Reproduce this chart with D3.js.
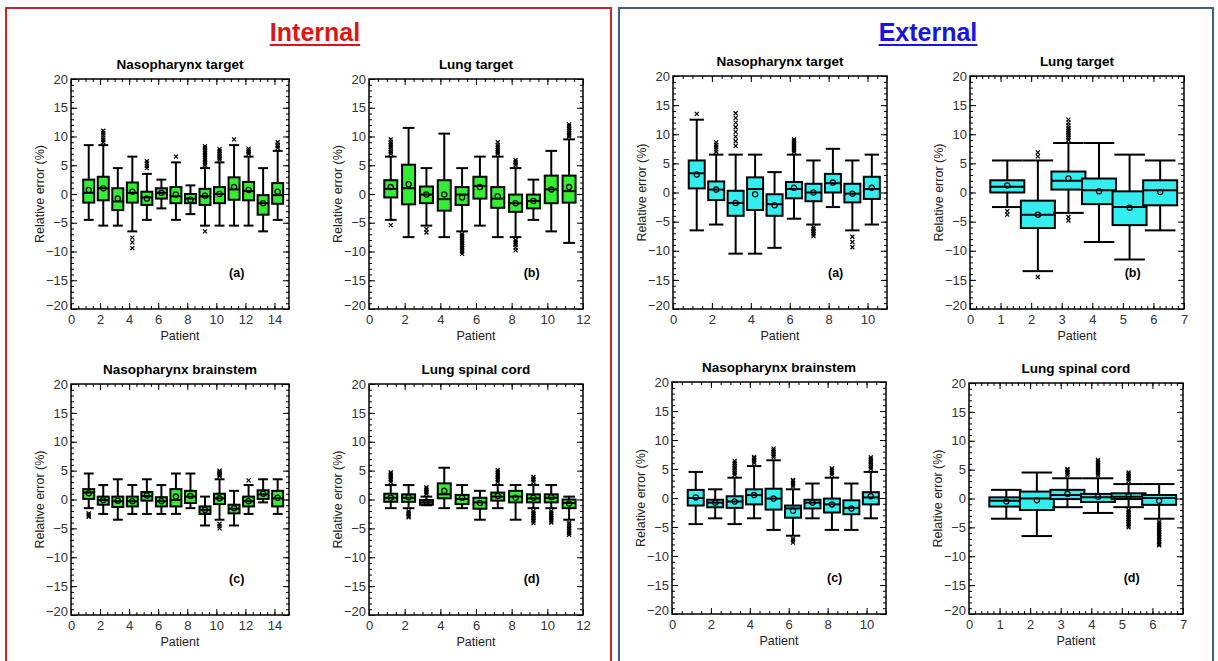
<!DOCTYPE html>
<html>
<head>
<meta charset="utf-8">
<script src="https://cdn.jsdelivr.net/npm/d3@7"></script>
<style>
  body { margin: 0; background: #fff; }
  text { font-family: 'Liberation Sans', Arial, sans-serif; }
</style>
</head>
<body>
<div id="chart"></div>
<script>
// rows: [low whisker, q1, median, q3, high whisker, mean]
const intNasoTarget = [
  [-4.5, -1.5, 0.2, 2.5, 8.5, 0.7], [-5.5, -1.1, 1.0, 3.0, 8.5, 1.0], [-5.5, -2.8, -1.3, 1.0, 4.5, -0.8],
  [-6.5, -1.5, 0.2, 2.0, 6.5, 0.4], [-4.5, -1.9, -0.6, 0.4, 3.5, -0.8], [-2.5, -0.8, 0.2, 1.0, 2.5, 0.2],
  [-4.5, -1.6, -0.4, 1.2, 5.5, -0.1], [-3.5, -1.6, -0.8, 0, 1.5, -1.0], [-5.5, -1.9, -0.4, 0.9, 4.5, -0.3],
  [-5.5, -1.6, 0, 1.2, 5.5, 0], [-5.5, -1.0, 0.8, 2.9, 8.5, 1.2], [-5.5, -1.1, 0.5, 2.1, 6.5, 0.7],
  [-6.5, -3.6, -1.6, -0.2, 4.5, -1.6], [-4.5, -1.7, -0.2, 1.9, 7.5, 0.4]
];
const intNasoTargetOut = [
  [], [9, 9.4, 9.8, 10.2, 10.6, 11], [], [-7.6, -8.4, -9.4], [4.5, 4.9, 5.3, 5.7], [], [6.5], [],
  [5, 5.3, 5.6, 5.9, 6.2, 6.5, 6.8, 7.1, 7.4, 7.7, 8, 8.3, -6.5], [6, 6.3, 6.6, 6.9, 7.2, 7.5, 7.8],
  [9.5], [7, 7.3, 7.6, 7.9], [], [8, 8.3, 8.6, 9]
];

const intLungTarget = [
  [-4.5, -0.6, 0.9, 2.4, 6.5, 1.2], [-7.5, -1.8, 1.0, 5.1, 11.5, 1.7], [-5.5, -1.6, -0.1, 1.3, 4.5, -0.1],
  [-7.5, -2.9, -0.9, 2.4, 10.5, -0.1], [-6.5, -1.9, -0.1, 1.2, 4.5, -0.6], [-5.5, -0.8, 1.4, 3.0, 6.5, 1.2],
  [-7.5, -2.4, -0.8, 1.2, 6.5, -0.4], [-7.5, -3.1, -1.6, -0.1, 4.5, -1.6], [-4.5, -2.5, -1.2, -0.1, 2.5, -1.2],
  [-6.5, -1.6, 0.8, 3.2, 7.5, 0.8], [-8.5, -1.5, 0.5, 3.2, 9.5, 1.2]
];
const intLungTargetOut = [
  [7, 7.3, 7.6, 7.9, 8.2, 8.5, 8.8, 9.1, 9.5, -5.4], [], [-6.1, -6.7], [],
  [-7, -7.3, -7.6, -7.9, -8.2, -8.5, -8.8, -9.1, -9.4, -9.7, -10, -10.4], [],
  [7, 7.3, 7.6, 7.9, 8.2, 8.5, 9], [5, 5.3, 5.6, 5.9, -8, -8.3, -8.6, -8.9, -9.3, -9.8], [], [],
  [10, 10.3, 10.6, 10.9, 11.2, 11.5, 11.8, 12.1]
];

const extNasoTarget = [
  [-6.5, 0.7, 3.3, 5.5, 12.5, 3.1], [-5.5, -1.3, 0.5, 1.9, 6.5, 0.5], [-10.5, -4.0, -1.8, 0.3, 6.5, -1.8],
  [-10.5, -3.0, 0.6, 2.6, 6.5, -0.3], [-9.5, -4.0, -2.0, -0.3, 3.5, -2.2], [-4.5, -1.0, 0.6, 1.8, 6.5, 0.8],
  [-5.5, -1.5, 0, 1.5, 5.5, 0], [-2.5, 0, 1.6, 3.2, 7.5, 1.7], [-6.5, -1.7, -0.2, 1.5, 5.5, -0.2],
  [-5.5, -1.1, 0.6, 2.7, 6.5, 0.8]
];
const extNasoTargetOut = [
  [13.5], [7, 7.4, 7.8, 8.2, 8.6], [8, 8.8, 9.6, 10.4, 11.2, 12, 12.8, 13.6], [], [],
  [7, 7.3, 7.6, 7.9, 8.2, 8.5, 8.8, 9.1], [-6, -6.3, -6.6, -6.9, -7.2, -7.5], [], [-7.6, -8.5, -9.4], []
];

const extLungTarget = [
  [-2.5, 0, 1.0, 2.1, 5.5, 1.2], [-13.5, -6.1, -3.8, -1.4, 5.5, -3.8], [-3.5, 0.5, 2.0, 3.6, 8.5, 2.4],
  [-8.5, -2.0, 0.4, 2.4, 8.5, 0.2], [-11.5, -5.6, -2.5, 0.2, 6.5, -2.6], [-6.5, -2.2, 0.4, 2.1, 5.5, 0.1]
];
const extLungTargetOut = [
  [-3.2, -3.8], [6.2, 6.9, -14.5], [9, 9.3, 9.6, 9.9, 10.2, 10.5, 10.8, 11.1, 11.5, 12, 12.5, -4.2, -4.8], [], [], []
];

const intNasoStem = [
  [-1.5, 0.1, 1.2, 1.8, 4.5, 1.1], [-2.5, -0.9, -0.1, 0.5, 2.5, -0.1], [-3.5, -1.3, -0.3, 0.5, 3.5, -0.2],
  [-2.5, -1.2, -0.3, 0.5, 2.5, -0.3], [-2.5, -0.2, 0.6, 1.3, 3.5, 0.7], [-2.5, -1.2, -0.3, 0.4, 2.5, -0.3],
  [-2.5, -1.2, -0.1, 1.8, 4.5, 0.5], [-1.5, -0.6, 0.5, 1.5, 4.5, 0.6], [-4.5, -2.5, -1.8, -1.2, 0.5, -1.8],
  [-3.5, -0.8, 0.2, 1.0, 3.5, 0.2], [-4.5, -2.4, -1.6, -0.9, 1.5, -1.5], [-2.5, -1.2, -0.3, 0.5, 2.5, -0.3],
  [-0.5, 0.1, 0.9, 1.6, 3.5, 1.0], [-2.5, -1.2, 0.2, 1.5, 3.5, 0.3]
];
const intNasoStemOut = [
  [-2.4, -2.6, -2.8, -3.0], [], [], [], [], [], [], [], [],
  [4, 4.2, 4.4, 4.6, 4.8, 5, -4.2, -4.6, -5], [], [3.3], [], []
];

const intLungCord = [
  [-1.5, -0.4, 0.3, 1.0, 2.5, 0.3], [-1.5, -0.4, 0.3, 0.9, 2.5, 0.4], [-1.0, -0.9, -0.5, -0.1, 0.5, -0.4],
  [-1.5, 0.2, 0.9, 2.8, 5.5, 1.5], [-1.5, -0.8, 0.1, 0.8, 2.5, 0.3], [-3.5, -1.6, -0.5, 0.3, 1.5, -0.6],
  [-1.5, -0.2, 0.5, 1.2, 2.5, 0.6], [-3.5, -0.5, 0.5, 1.5, 2.5, 0.3], [-1.5, -0.5, 0.2, 0.9, 2.5, 0.3],
  [-1.5, -0.5, 0.3, 0.9, 2.5, 0.4], [-3.5, -1.5, -0.6, 0, 0.5, -0.7]
];
const intLungCordOut = [
  [3, 3.3, 3.6, 3.9, 4.2, 4.5, 4.7], [-2, -2.3, -2.6, -2.9, -3.1], [1, 1.3, 1.6, 1.9, 2.1], [], [], [],
  [3, 3.3, 3.6, 3.9, 4.2, 4.5, 4.8, 5.1], [],
  [3, 3.3, 3.6, 3.9, -2, -2.3, -2.6, -2.9, -3.2, -3.5, -3.8, -4.1],
  [-2, -2.3, -2.6, -2.9, -3.2, -3.5, -3.8, -4.0],
  [-4, -4.3, -4.6, -4.9, -5.2, -5.5, -5.8, -6.1]
];

const extNasoStem = [
  [-4.5, -1.3, 0, 1.4, 4.5, 0.1], [-3.5, -1.6, -0.8, -0.3, 1.5, -0.8], [-4.5, -1.7, -0.6, 0.3, 3.5, -0.6],
  [-3.5, -1.1, 0.5, 1.5, 5.5, 0.5], [-5.5, -2.0, -0.1, 1.6, 6.5, -0.1], [-6.5, -3.4, -1.8, -1.3, 1.5, -2.2],
  [-3.5, -1.8, -0.8, -0.3, 2.5, -0.8], [-5.5, -2.5, -1.1, -0.1, 3.5, -1.1], [-5.5, -2.8, -1.7, -0.4, 2.5, -1.8],
  [-3.5, -1.1, 0.1, 1.0, 4.5, 0.3]
];
const extNasoStemOut = [
  [], [], [4, 4.3, 4.6, 4.9, 5.2, 5.5, 5.8, 6.1, 6.4], [6, 6.3, 6.6, 6.9, 7.1], [7, 7.3, 7.6, 7.9, 8.2, 8.5],
  [2, 2.3, 2.6, 2.9, 3.1, -7, -7.3, -7.7], [], [4, 4.3, 4.6, 4.9, 5.1], [], [5, 5.3, 5.6, 5.9, 6.2, 6.5, 6.8, 7]
];

const extLungCord = [
  [-3.5, -1.4, -0.4, 0.2, 1.5, -0.5], [-6.5, -2.0, 0, 1.2, 4.5, -0.3], [-1.5, -0.1, 0.6, 1.5, 3.5, 0.8],
  [-2.5, -0.6, 0.2, 0.8, 3.5, 0.3], [-1.5, -0.1, 0.3, 0.9, 2.5, 0.4], [-3.5, -1.1, 0.1, 0.6, 2.5, -0.4]
];
const extLungCordOut = [
  [], [], [4, 4.3, 4.6, 4.9, 5.1], [4, 4.3, 4.6, 4.9, 5.2, 5.5, 5.8, 6.1, 6.4, 6.7],
  [3, 3.3, 3.6, 3.9, 4.2, 4.5, -2, -2.3, -2.6, -2.9, -3.2, -3.5, -3.8, -4.1, -4.4, -4.7, -5],
  [-4, -4.3, -4.6, -4.9, -5.2, -5.5, -5.8, -6.1, -6.4, -6.7, -7, -7.3, -7.6, -7.9, -8.1]
];

const yTicks = [-20, -15, -10, -5, 0, 5, 10, 15, 20];

const green = '#33ee33';
const cyan = '#33eeee';

const panels = [
  { title: 'Nasopharynx target', tag: '(a)', stats: intNasoTarget, out: intNasoTargetOut, xmax: 15, step: 2, minor: 0.5, x0: 71, x1: 289, y0: 79, y1: 309, bw: 11, fill: green },
  { title: 'Lung target', tag: '(b)', stats: intLungTarget, out: intLungTargetOut, xmax: 12, step: 2, minor: 0.5, x0: 369, x1: 583, y0: 79, y1: 309, bw: 13, fill: green },
  { title: 'Nasopharynx target', tag: '(a)', stats: extNasoTarget, out: extNasoTargetOut, xmax: 11, step: 2, minor: 0.5, x0: 673, x1: 887, y0: 76, y1: 309, bw: 16, fill: cyan },
  { title: 'Lung target', tag: '(b)', stats: extLungTarget, out: extLungTargetOut, xmax: 7, step: 1, minor: 0.2, x0: 970, x1: 1184, y0: 76, y1: 309, bw: 34, fill: cyan },
  { title: 'Nasopharynx brainstem', tag: '(c)', stats: intNasoStem, out: intNasoStemOut, xmax: 15, step: 2, minor: 0.5, x0: 71, x1: 289, y0: 384, y1: 615, bw: 11, fill: green },
  { title: 'Lung spinal cord', tag: '(d)', stats: intLungCord, out: intLungCordOut, xmax: 12, step: 2, minor: 0.5, x0: 369, x1: 583, y0: 384, y1: 615, bw: 13, fill: green },
  { title: 'Nasopharynx brainstem', tag: '(c)', stats: extNasoStem, out: extNasoStemOut, xmax: 11, step: 2, minor: 0.5, x0: 672, x1: 886, y0: 382, y1: 614, bw: 16, fill: cyan },
  { title: 'Lung spinal cord', tag: '(d)', stats: extLungCord, out: extLungCordOut, xmax: 7, step: 1, minor: 0.2, x0: 969, x1: 1183, y0: 383, y1: 614, bw: 34, fill: cyan }
];

const fmt = d3.format('~g');

const svg = d3.select('#chart')
  .append('svg')
  .attr('width', 1218)
  .attr('height', 661);

svg.append('rect').attr('width', 1218).attr('height', 661).attr('fill', '#fff');

// group frames
svg.append('path')
  .attr('d', 'M6,661V8H611V661')
  .attr('fill', 'none')
  .attr('stroke', '#c4282e')
  .attr('stroke-width', 2);
svg.append('path')
  .attr('d', 'M619,661V8H1213V661')
  .attr('fill', 'none')
  .attr('stroke', '#3d5f86')
  .attr('stroke-width', 2);

[['Internal', 315, '#dd1515'], ['External', 928, '#1515e6']].forEach(([t, cx, c]) => {
  const txt = svg.append('text')
    .attr('x', cx)
    .attr('y', 41)
    .attr('text-anchor', 'middle')
    .style('font-size', '25px')
    .style('font-weight', 'bold')
    .style('fill', c)
    .text(t);
  const w = txt.node().getComputedTextLength();
  svg.append('line')
    .attr('x1', cx - w / 2).attr('x2', cx + w / 2)
    .attr('y1', 45).attr('y2', 45)
    .attr('stroke', c).attr('stroke-width', 2);
});

const cross = 'M-2,-2L2,2M-2,2L2,-2';

panels.forEach(p => {
  const g = svg.append('g');
  const x = d3.scaleLinear().domain([0, p.xmax]).range([p.x0, p.x1]);
  const y = d3.scaleLinear().domain([-20, 20]).range([p.y1, p.y0]);
  const xMajor = d3.range(0, p.xmax + 0.001, p.step);
  const xMinor = d3.range(0, p.xmax + 0.001, p.minor);
  const yMinor = d3.range(-20, 20.001, 1);

  const styleAxis = sel => {
    sel.select('.domain').remove();
    sel.selectAll('line').attr('stroke', '#000').attr('stroke-width', 1);
    sel.selectAll('text').style('font-size', '13px').style('font-family', "'Liberation Sans', Arial, sans-serif").attr('fill', '#333');
  };

  // minor ticks all four sides
  g.append('g').attr('transform', `translate(${p.x0},0)`).call(d3.axisLeft(y).tickValues(yMinor).tickSize(-3).tickFormat('')).call(styleAxis);
  g.append('g').attr('transform', `translate(${p.x1},0)`).call(d3.axisRight(y).tickValues(yMinor).tickSize(-3).tickFormat('')).call(styleAxis);
  g.append('g').attr('transform', `translate(0,${p.y1})`).call(d3.axisBottom(x).tickValues(xMinor).tickSize(-3).tickFormat('')).call(styleAxis);
  g.append('g').attr('transform', `translate(0,${p.y0})`).call(d3.axisTop(x).tickValues(xMinor).tickSize(-3).tickFormat('')).call(styleAxis);

  // major ticks
  const left = g.append('g').attr('transform', `translate(${p.x0},0)`)
    .call(d3.axisLeft(y).tickValues(yTicks).tickSize(-6).tickPadding(3).tickFormat(fmt)).call(styleAxis);
  left.selectAll('.tick text').filter(d => d === -20).attr('y', -4);
  g.append('g').attr('transform', `translate(${p.x1},0)`).call(d3.axisRight(y).tickValues(yTicks).tickSize(-6).tickFormat('')).call(styleAxis);
  g.append('g').attr('transform', `translate(0,${p.y1})`)
    .call(d3.axisBottom(x).tickValues(xMajor).tickSize(-6).tickPadding(6).tickFormat(fmt)).call(styleAxis);
  g.append('g').attr('transform', `translate(0,${p.y0})`).call(d3.axisTop(x).tickValues(xMajor).tickSize(-6).tickFormat('')).call(styleAxis);

  g.append('rect')
    .attr('x', p.x0).attr('y', p.y0)
    .attr('width', p.x1 - p.x0).attr('height', p.y1 - p.y0)
    .attr('fill', 'none').attr('stroke', '#000').attr('stroke-width', 1.5);

  g.append('text')
    .attr('x', (p.x0 + p.x1) / 2).attr('y', p.y0 - 10)
    .attr('text-anchor', 'middle')
    .style('font-size', '13.5px').style('font-weight', 'bold')
    .text(p.title);

  g.append('text')
    .attr('transform', `translate(${p.x0 - 27},${(p.y0 + p.y1) / 2}) rotate(-90)`)
    .attr('text-anchor', 'middle')
    .style('font-size', '12.5px').attr('fill', '#222')
    .text('Relative error (%)');

  g.append('text')
    .attr('x', (p.x0 + p.x1) / 2).attr('y', p.y1 + 31)
    .attr('text-anchor', 'middle')
    .style('font-size', '12.5px').attr('fill', '#222')
    .text('Patient');

  g.append('text')
    .attr('x', x(p.xmax * 0.76)).attr('y', y(-14.5))
    .attr('text-anchor', 'middle')
    .style('font-size', '12.5px').style('font-weight', 'bold')
    .text(p.tag);

  const boxes = g.selectAll('.box')
    .data(p.stats)
    .enter()
    .append('g')
    .attr('class', 'box')
    .attr('transform', (d, i) => `translate(${x(i + 1.22)},0)`);

  boxes.append('line')
    .attr('y1', d => y(d[0])).attr('y2', d => y(d[4]))
    .attr('stroke', '#000').attr('stroke-width', 2);
  boxes.append('line')
    .attr('x1', -p.bw * 0.45).attr('x2', p.bw * 0.45)
    .attr('y1', d => y(d[0])).attr('y2', d => y(d[0]))
    .attr('stroke', '#000').attr('stroke-width', 2);
  boxes.append('line')
    .attr('x1', -p.bw * 0.45).attr('x2', p.bw * 0.45)
    .attr('y1', d => y(d[4])).attr('y2', d => y(d[4]))
    .attr('stroke', '#000').attr('stroke-width', 2);
  boxes.append('rect')
    .attr('x', -p.bw / 2).attr('width', p.bw)
    .attr('y', d => y(d[3])).attr('height', d => y(d[1]) - y(d[3]))
    .attr('fill', p.fill).attr('stroke', '#000').attr('stroke-width', 2);
  boxes.append('line')
    .attr('x1', -p.bw / 2).attr('x2', p.bw / 2)
    .attr('y1', d => y(d[2])).attr('y2', d => y(d[2]))
    .attr('stroke', '#000').attr('stroke-width', 2);
  boxes.append('circle')
    .attr('cy', d => y(d[5])).attr('r', 2.6)
    .attr('fill', 'none').attr('stroke', '#000').attr('stroke-width', 1.3);

  boxes.each(function(d, i) {
    d3.select(this).selectAll('.out')
      .data(p.out[i])
      .enter()
      .append('path')
      .attr('class', 'out')
      .attr('d', cross)
      .attr('transform', v => `translate(0,${y(v)})`)
      .attr('stroke', '#000').attr('stroke-width', 1.2);
  });
});
</script>
</body>
</html>
